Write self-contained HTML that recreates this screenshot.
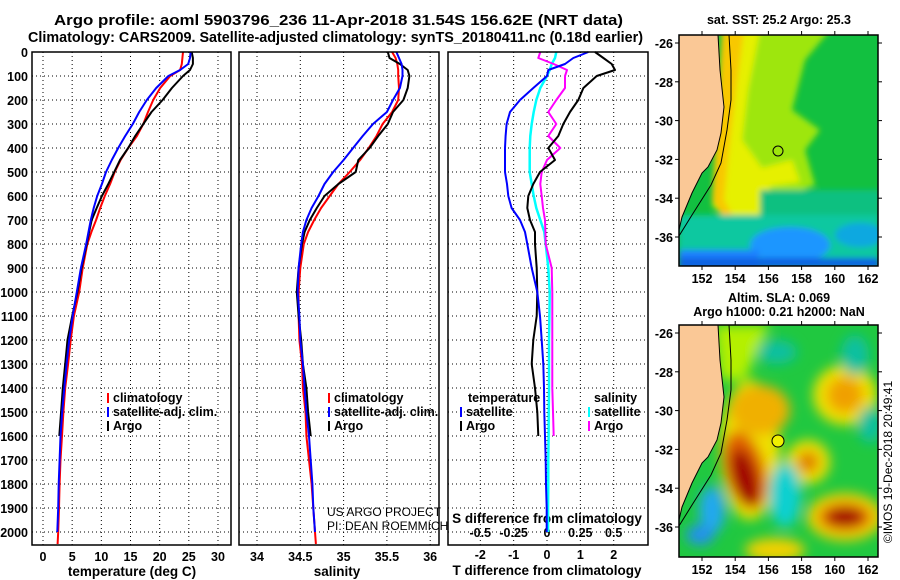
<!DOCTYPE html>
<html><head><meta charset="utf-8"><style>
html,body{margin:0;padding:0;background:#fff;}
svg{display:block;font-family:"Liberation Sans",sans-serif;font-weight:bold;}
</style></head><body>
<svg id="chart" width="900" height="580" xmlns="http://www.w3.org/2000/svg">
<defs>
<filter id="bl" x="-30%" y="-30%" width="160%" height="160%"><feGaussianBlur stdDeviation="3"/></filter>
<filter id="bl2" x="-30%" y="-30%" width="160%" height="160%"><feGaussianBlur stdDeviation="6"/></filter>
<clipPath id="c1"><rect x="679" y="35" width="199" height="231"/></clipPath>
<clipPath id="c2"><rect x="679" y="325" width="199" height="232"/></clipPath>
</defs>
<text x="54" y="25" font-size="14.5" textLength="569" lengthAdjust="spacingAndGlyphs">Argo profile: aoml 5903796_236 11-Apr-2018 31.54S 156.62E (NRT data)</text>
<text x="28" y="42" font-size="14.5" textLength="615" lengthAdjust="spacingAndGlyphs">Climatology: CARS2009. Satellite-adjusted climatology: synTS_20180411.nc (0.18d earlier)</text>
<g id="plots"></g>
<g id="maps"></g>
</svg>
<script>
// ---- data ----
const depths = [0,25,50,75,100,150,200,250,300,350,400,450,500,550,600,650,700,750,800,900,1000,1100,1200,1300,1400,1500,1600,1700,1800,1900,2000,2050];
const tempClim = [24.0,23.9,23.8,23.5,21.8,20.1,18.9,18.0,17.2,16.1,14.6,13.3,12.3,11.5,10.6,9.8,9.1,8.3,7.6,6.8,6.2,5.3,4.75,4.3,3.8,3.5,3.26,3.0,2.85,2.75,2.6,2.5];
const tempSat = [25.3,25.2,24.9,23.5,21.5,19.4,17.8,16.5,15.4,14.1,12.9,11.8,10.8,10.1,9.3,8.7,8.2,7.8,7.4,6.5,5.8,5.1,4.5,4.05,3.65,3.3,3.0,2.85,2.7,2.6,2.46];
const tempArgo = [25.5,25.7,25.7,25.2,24.0,22.1,20.5,18.6,17.2,15.8,14.6,13.2,12.2,11.2,10.1,9.2,8.35,7.9,7.5,6.6,5.9,5.0,4.2,3.8,3.4,3.1,2.8];
const salClim = [35.56,35.60,35.62,35.63,35.63,35.64,35.63,35.56,35.45,35.38,35.29,35.19,35.07,34.94,34.84,34.74,34.66,34.59,34.54,34.50,34.48,34.48,34.49,34.52,34.53,34.56,34.57,34.60,34.63,34.65,34.67,34.68];
const salSat = [35.61,35.64,35.67,35.68,35.68,35.65,35.57,35.50,35.34,35.22,35.11,35.00,34.88,34.78,34.71,34.63,34.57,34.53,34.51,34.48,34.47,34.49,34.50,34.53,34.55,34.57,34.60,34.62,34.64,34.65,34.67];
const salArgo = [35.51,35.53,35.65,35.74,35.76,35.74,35.69,35.57,35.51,35.40,35.30,35.17,35.14,34.94,34.78,34.69,34.61,34.55,34.52,34.48,34.46,34.48,34.51,34.53,34.57,34.59,34.62];
const dTSat = [1.24,0.79,0.54,0.04,0.0,-0.41,-0.81,-1.11,-1.21,-1.24,-1.26,-1.26,-1.26,-1.2,-1.16,-1.06,-0.81,-0.66,-0.59,-0.46,-0.29,-0.21,-0.16,-0.11,-0.09,-0.08,-0.06,-0.04,-0.03,-0.01,-0.01];
const dTArgo = [1.44,1.69,1.94,2.04,1.49,1.09,0.94,0.69,0.49,0.34,0.04,0.24,-0.21,-0.41,-0.56,-0.59,-0.51,-0.36,-0.36,-0.31,-0.29,-0.31,-0.41,-0.46,-0.36,-0.29,-0.26];
const dSSat = [0.07,0.06,0.035,0.02,0.0,-0.05,-0.08,-0.10,-0.115,-0.125,-0.13,-0.13,-0.13,-0.115,-0.10,-0.08,-0.05,-0.02,-0.01,0.01,0.02,0.018,0.015,0.015,0.015,0.013,0.012,0.01,0.01,0.008,0.008];
const dSArgo = [-0.05,-0.065,0.05,0.15,0.135,0.135,0.07,0.01,0.07,0.01,0.1,0.0,-0.04,-0.05,-0.04,-0.03,-0.015,-0.012,-0.01,0.035,0.04,0.04,0.04,0.04,0.04,0.045,0.05];
const depthTicks = [0,100,200,300,400,500,600,700,800,900,1000,1100,1200,1300,1400,1500,1600,1700,1800,1900,2000];
const tempTicks = [0,5,10,15,20,25,30];
const salTicks = [34,34.5,35,35.5,36];
const dTTicks = [-2,-1,0,1,2];
const dSTicks = [-0.5,-0.25,0,0.25,0.5];
const dSTickLabels = ["-0.5","-0.25","0","0.25","0.5"];

const NS='http://www.w3.org/2000/svg';
const plots=document.getElementById('plots');
function mk(tag,attrs,parent){const e=document.createElementNS(NS,tag);for(const k in attrs)e.setAttribute(k,attrs[k]);(parent||plots).appendChild(e);return e;}
const top0=52,bot=545;
const yD=d=>top0+d*0.24;
const xT=t=>43+t*5.833;
const xS=s=>257+(s-34)*86.6;
const xDT=t=>547+t*33.35;
const xDS=s=>547+s*133.4;

const panels=[[32,231],[239,439],[448,648]];
const panelVT=[tempTicks.map(xT),salTicks.map(xS)];
const pnames=['temperature-panel','salinity-panel','difference-panel'];
panels.forEach((p,i)=>{
  const g=mk('g',{});
  
  
  depthTicks.forEach(d=>{const l=mk('line',{x1:p[0],x2:p[1],y1:yD(d),y2:yD(d),stroke:'#000','stroke-width':1,'stroke-dasharray':'1,3'},g);
    });
  const vx = i<2?panelVT[i]:dTTicks.map(xDT);
  vx.forEach(x=>{const l=mk('line',{x1:x,x2:x,y1:top0,y2:bot,stroke:'#000','stroke-width':1,'stroke-dasharray':'1,3'},g);
    });
});
depthTicks.forEach(d=>{const t=mk('text',{x:28,y:yD(d)+5,'text-anchor':'end','font-size':12.5});t.textContent=d;
  });
function xlabels(ticks,fx,labels,y){ticks.forEach((v,i)=>{const t=mk('text',{x:fx(v),y:y,'text-anchor':'middle','font-size':12.5});t.textContent=labels?labels[i]:v;
  });}
xlabels(tempTicks,xT,null,561);
xlabels(salTicks,xS,null,561);
xlabels(dTTicks,xDT,null,559);
function ttl(x,y,s,name){const t=mk('text',{x:x,y:y,'text-anchor':'middle','font-size':13.5});t.textContent=s;return t;}
ttl(132,576,'temperature (deg C)','x-axis-title-temperature');
ttl(337,576,'salinity','x-axis-title-salinity');
ttl(547,575,'T difference from climatology','x-axis-title-t-diff');
ttl(547,523,'S difference from climatology','s-axis-title');
const sl=mk('line',{x1:448,x2:648,y1:532,y2:532,stroke:'#000','stroke-dasharray':'1,3'});
xlabels(dSTicks,xDS,dSTickLabels,537);

function series(xs,fx,color,name,w){
  const pts=xs.map((v,i)=>fx(v).toFixed(1)+','+yD(depths[i]).toFixed(1)).join(' ');
  const pl=mk('polyline',{points:pts,fill:'none',stroke:color,'stroke-width':w||2,'stroke-linejoin':'round'});
  
  
}
series(tempClim,xT,'#f00','temp-climatology-line');
series(tempArgo,xT,'#000','temp-argo-line');
series(tempSat,xT,'#00f','temp-satellite-line');
series(salClim,xS,'#f00','sal-climatology-line');
series(salArgo,xS,'#000','sal-argo-line');
series(salSat,xS,'#00f','sal-satellite-line');
series(dSSat,xDS,'#0ff','dS-satellite-line',2.5);
series(dSArgo,xDS,'#f0f','dS-argo-line');
series(dTArgo,xDT,'#000','dT-argo-line');
series(dTSat,xDT,'#00f','dT-satellite-line');

panels.forEach((p,i)=>{const r=mk('rect',{x:p[0],y:top0,width:p[1]-p[0],height:bot-top0,fill:'none',stroke:'#000','stroke-width':1.5});
  });

function legend(x,y,color,label){const l=mk('line',{x1:x,x2:x,y1:y-9,y2:y+1,stroke:color,'stroke-width':2});
  
  const t=mk('text',{x:x+5,y:y,'font-size':12.5});t.textContent=label;}
legend(108,402,'#f00','climatology');legend(108,416,'#00f','satellite-adj. clim.');legend(108,430,'#000','Argo');
legend(329,402,'#f00','climatology');legend(329,416,'#00f','satellite-adj. clim.');legend(329,430,'#000','Argo');
{const t=mk('text',{x:468,y:402,'font-size':12.5});t.textContent='temperature';}
{const t=mk('text',{x:594,y:402,'font-size':12.5});t.textContent='salinity';}
legend(461,416,'#00f','satellite');legend(461,430,'#000','Argo');legend(589,416,'#0ff','satellite');legend(589,430,'#f0f','Argo');
{const t=mk('text',{x:327,y:516,'font-size':12,'font-weight':'normal'});t.textContent='US ARGO PROJECT';}
{const t=mk('text',{x:327,y:530,'font-size':12,'font-weight':'normal'});t.textContent='PI: DEAN ROEMMICH';}

// ---- maps ----
const maps=document.getElementById('maps');
function m(tag,attrs,parent){const e=document.createElementNS(NS,tag);for(const k in attrs)e.setAttribute(k,attrs[k]);(parent||maps).appendChild(e);return e;}
const lonTicks=[152,154,156,158,160,162];
const latTicks=[-26,-28,-30,-32,-34,-36];
const lonX=l=>702+(l-152)*16.6;
function mapFrame(y0,h,latY0,labelY,name){
  const f=m('rect',{x:679,y:y0,width:199,height:h,fill:'none',stroke:'#000','stroke-width':1.5});
  
  latTicks.forEach(t=>{const y=latY0+(-26-t)*19.4;
    m('line',{x1:679,x2:675,y1:y,y2:y,stroke:'#000'});m('line',{x1:878,x2:882,y1:y,y2:y,stroke:'#000'});
    const tx=m('text',{x:673,y:y+5,'text-anchor':'end','font-size':12.5});tx.textContent=t;});
  lonTicks.forEach(l=>{const x=lonX(l);m('line',{x1:x,x2:x,y1:y0,y2:y0-4,stroke:'#000'});m('line',{x1:x,x2:x,y1:y0+h,y2:y0+h+4,stroke:'#000'});
    const tx=m('text',{x:x,y:labelY,'text-anchor':'middle','font-size':12.5});tx.textContent=l;});
}
function coast(dy,g){
  const land=m('polygon',{points:[[679,35],[718,35],[720,70],[724,107],[721,133],[717,150],[708,167],[702,173],[692,193],[682,217],[679,230]].map(p=>p[0]+','+(p[1]+dy)).join(' '),fill:'#fac896',stroke:'#000','stroke-width':1},g);
  
  const c=m('polyline',{points:[[729,35],[731,70],[731,100],[727,130],[721,163],[711,185],[692,215],[679,236]].map(p=>p[0]+','+(p[1]+dy)).join(' '),fill:'none',stroke:'#000','stroke-width':1},g);
  
}
{const g=m('g',{'clip-path':'url(#c1)'});
 m('rect',{x:679,y:35,width:199,height:231,fill:'#12c040'},g);
 const b=m('g',{filter:'url(#bl)'},g);
 m('polygon',{points:'722,30 830,30 805,60 792,110 820,130 805,150 815,185 790,195 760,190 722,200',fill:'#9ee610'},b);
 m('polygon',{points:'722,30 760,30 748,90 742,140 762,168 792,160 800,182 770,186 768,222 735,228 712,205 724,140',fill:'#e6f000'},b);
 m('polygon',{points:'722,30 744,30 736,90 730,140 724,200 736,222 726,222 712,200',fill:'#f8c800'},b);
 m('rect',{x:760,y:190,width:120,height:30,fill:'#10c080'},b);
 m('rect',{x:679,y:215,width:200,height:55,fill:'#10c8a0'},b);
 m('ellipse',{cx:790,cy:245,rx:40,ry:18,fill:'#1e96ff'},b);
 m('rect',{x:679,y:250,width:80,height:20,fill:'#1e80ff'},b);
 m('rect',{x:679,y:258,width:200,height:10,fill:'#1060e0'},b);
 m('ellipse',{cx:860,cy:235,rx:25,ry:12,fill:'#10a8e0'},b);
 coast(0,g);
 const mk1=m('circle',{cx:778,cy:151,r:5,fill:'none',stroke:'#000','stroke-width':1},g);
}
mapFrame(35,231,43,283,'sst-map');
{const t=m('text',{x:779,y:24,'text-anchor':'middle','font-size':12.5});t.textContent='sat. SST: 25.2 Argo: 25.3';}
{const g=m('g',{'clip-path':'url(#c2)'});
 m('rect',{x:679,y:325,width:199,height:232,fill:'#20c840'},g);
 const b=m('g',{filter:'url(#bl2)'},g);
 m('polygon',{points:'715,325 770,325 760,345 745,380 720,380',fill:'#b4f000'},b);
 m('ellipse',{cx:845,cy:395,rx:32,ry:30,fill:'#f0e000'},b);
 m('ellipse',{cx:845,cy:395,rx:18,ry:18,fill:'#f0a000'},b);
 m('ellipse',{cx:750,cy:450,rx:30,ry:70,fill:'#f0e000'},b);
 m('ellipse',{cx:760,cy:410,rx:30,ry:25,fill:'#f0b000'},b);
 m('ellipse',{cx:745,cy:470,rx:20,ry:40,fill:'#e06000',transform:'rotate(-15 745 470)'},b);
 m('ellipse',{cx:745,cy:478,rx:12,ry:30,fill:'#a00000',transform:'rotate(-15 745 478)'},b);
 m('ellipse',{cx:808,cy:462,rx:22,ry:22,fill:'#f0e000'},b);
 m('ellipse',{cx:808,cy:462,rx:11,ry:11,fill:'#e08000'},b);
 m('ellipse',{cx:845,cy:517,rx:38,ry:24,fill:'#f0d000'},b);
 m('ellipse',{cx:845,cy:517,rx:26,ry:14,fill:'#e06000'},b);
 m('ellipse',{cx:845,cy:517,rx:18,ry:9,fill:'#a00000'},b);
 m('ellipse',{cx:775,cy:550,rx:30,ry:12,fill:'#f0d000'},b);
 m('ellipse',{cx:777,cy:352,rx:20,ry:12,fill:'#10c0a0'},b);
 m('ellipse',{cx:855,cy:355,rx:14,ry:20,fill:'#10c0a0'},b);
 m('ellipse',{cx:785,cy:495,rx:16,ry:32,fill:'#10d0d0'},b);
 m('ellipse',{cx:712,cy:510,rx:13,ry:24,fill:'#20a8f0'},b);
 m('ellipse',{cx:700,cy:535,rx:14,ry:10,fill:'#2090f0'},b);
 m('ellipse',{cx:870,cy:425,rx:12,ry:18,fill:'#10c0a0'},b);
 coast(290,g);
 const mk2=m('circle',{cx:778,cy:441,r:6,fill:'#f0f000',stroke:'#000','stroke-width':1},g);
}
mapFrame(325,232,333,574,'sla-map');
{const t=m('text',{x:779,y:302,'text-anchor':'middle','font-size':12.5});t.textContent='Altim. SLA: 0.069';}
{const t=m('text',{x:779,y:316,'text-anchor':'middle','font-size':12.5});t.textContent='Argo h1000: 0.21 h2000: NaN';}
{const t=m('text',{x:0,y:0,'text-anchor':'middle','font-size':12,'font-weight':'normal',transform:'translate(892,462) rotate(-90)'});t.textContent='©IMOS 19-Dec-2018 20:49:41';}
</script>
</body></html>
